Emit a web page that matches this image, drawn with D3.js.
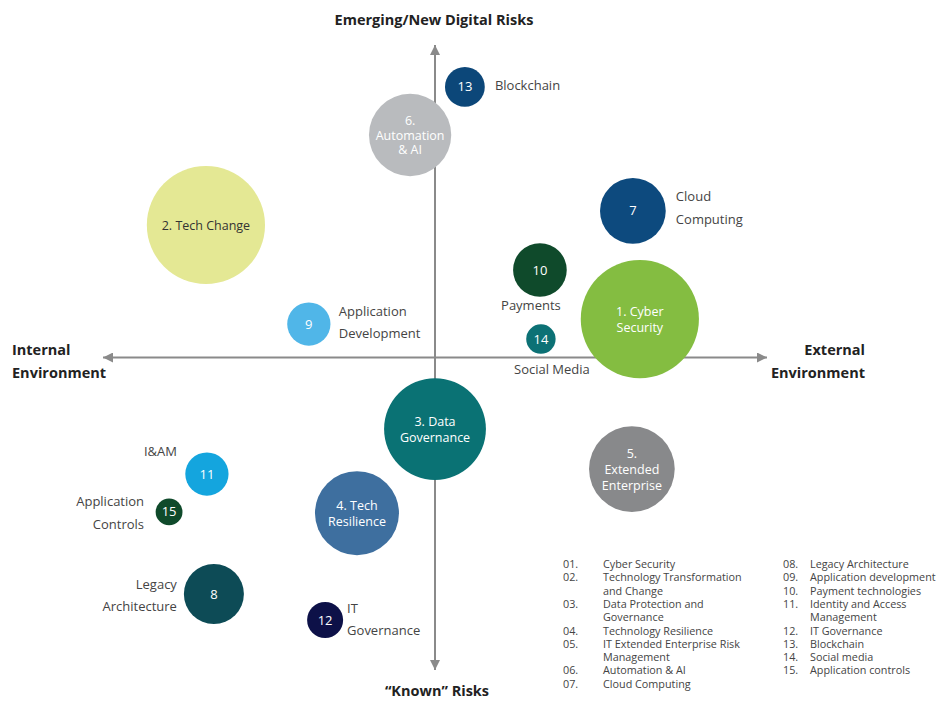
<!DOCTYPE html>
<html>
<head>
<meta charset="utf-8">
<script src="https://cdn.jsdelivr.net/npm/d3@7"></script>
<style>
  body { margin: 0; background: #fff; font-family: "Open Sans", sans-serif; }
</style>
</head>
<body>
<div id="chart"></div>
<script>
/* Data. */
const ids = [1, 2, 3, 4, 5, 6, 7, 8, 9, 10, 11, 12, 13, 14, 15]
const xValues = [6.17, -6.90, 0.00, -2.35, 5.93, -0.75, 5.96, -6.66, -3.80, 3.16, -6.87, -3.31, 0.90, 3.19, -8.01]
const yValues = [1.23, 4.24, -2.29, -4.98, -3.57, 7.12, 4.69, -7.57, 1.07, 2.80, -3.73, -8.40, 8.66, 0.59, -4.94]
const weights = [97, 97, 72, 49, 51, 47, 30, 25, 13, 20, 13, 9, 11, 6, 5]
const innerLabels = [
  ["1. Cyber", "Security"], ["2. Tech Change"], ["3. Data", "Governance"], ["4. Tech", "Resilience"],
  ["5.", "Extended", "Enterprise"], ["6.", "Automation", "& AI"], ["7"], ["8"], ["9"], ["10"],
  ["11"], ["12"], ["13"], ["14"], ["15"]
]
const outerLabels = [
  [], [], [], [], [], [], ["Cloud", "Computing"], ["Legacy", "Architecture"], ["Application", "Development"],
  ["Payments"], ["I&AM"], ["IT", "Governance"], ["Blockchain"], ["Social Media"], ["Application", "Controls"]
]
const colors = ["#84bd41", "#e4e894", "#0a7274", "#3e6f9f", "#88898b", "#b9bbbe", "#0d4a7e", "#0d4b56",
  "#50b6e8", "#0f4a2b", "#14a5de", "#0d1148", "#0c4779", "#0c7175", "#0f4a2b"]
const legendNums1 = ["01.", "02.", "", "03.", "", "04.", "05.", "", "06.", "07."]
const legendText1 = ["Cyber Security", "Technology Transformation", "and Change", "Data Protection and", "Governance",
  "Technology Resilience", "IT Extended Enterprise Risk", "Management", "Automation & AI", "Cloud Computing"]
const legendNums2 = ["08.", "09.", "10.", "11.", "", "12.", "13.", "14.", "15."]
const legendText2 = ["Legacy Architecture", "Application development", "Payment technologies", "Identity and Access",
  "Management", "IT Governance", "Blockchain", "Social media", "Application controls"]

/* Layout of outside labels: side, dx, dy of first line. */
const outerPlace = {
  7: { anchor: "start", dx: 43, dy: -14 },
  8: { anchor: "end", dx: -37, dy: -10 },
  9: { anchor: "start", dx: 30, dy: -13 },
  10: { anchor: "middle", dx: -9, dy: 35 },
  11: { anchor: "end", dx: -30, dy: -23 },
  12: { anchor: "start", dx: 22, dy: -12 },
  13: { anchor: "start", dx: 30, dy: -1 },
  14: { anchor: "middle", dx: 11, dy: 30 },
  15: { anchor: "end", dx: -25, dy: -10 }
}
/* Line spacing of the labels inside bubbles. */
const innerSpacing = { 5: 16, 6: 14.5 }

const width = 944
const height = 705

const svg = d3.select("#chart")
  .append("svg")
  .attr("width", width)
  .attr("height", height)

/* Scales. */
const x = d3.scaleLinear().domain([-10, 10]).range([103, 767])
const y = d3.scaleLinear().domain([-10, 10]).range([670, 45])
const r = d3.scaleSqrt().domain([0, 100]).range([0, 60])

/* Axes with arrowheads. */
const axisColor = "#8a8a8a"
const defs = svg.append("defs")
defs.append("marker")
  .attr("id", "arrow")
  .attr("viewBox", "0 0 10 10")
  .attr("refX", 10).attr("refY", 5)
  .attr("markerWidth", 6).attr("markerHeight", 5)
  .attr("markerUnits", "strokeWidth")
  .attr("orient", "auto")
  .append("path")
  .attr("d", "M0,0 L10,5 L0,10 Z")
  .attr("fill", axisColor)

const axes = svg.append("g")
axes.append("line")
  .attr("x1", x(0)).attr("x2", x(0)).attr("y1", y(0)).attr("y2", y(10))
axes.append("line")
  .attr("x1", x(0)).attr("x2", x(0)).attr("y1", y(0)).attr("y2", y(-10))
axes.append("line")
  .attr("x1", x(0)).attr("x2", x(-10)).attr("y1", y(0)).attr("y2", y(0))
axes.append("line")
  .attr("x1", x(0)).attr("x2", x(10)).attr("y1", y(0)).attr("y2", y(0))
axes.selectAll("line")
  .attr("stroke", axisColor)
  .attr("stroke-width", 2)
  .attr("marker-end", "url(#arrow)")

/* Axis titles. */
const titles = svg.append("g")
  .attr("font-weight", "bold")
  .attr("font-size", 14.5)
  .attr("fill", "#222")
titles.append("text").attr("x", 434).attr("y", 25).attr("text-anchor", "middle").text("Emerging/New Digital Risks")
titles.append("text").attr("x", 437).attr("y", 696).attr("text-anchor", "middle").text("\u201cKnown\u201d Risks")
titles.append("text").attr("x", 12).attr("y", 355).text("Internal")
titles.append("text").attr("x", 12).attr("y", 378).text("Environment")
titles.append("text").attr("x", 865).attr("y", 355).attr("text-anchor", "end").text("External")
titles.append("text").attr("x", 865).attr("y", 378).attr("text-anchor", "end").text("Environment")

/* Bubbles. */
const bubbles = ids.map((id, i) => ({
  id, x: xValues[i], y: yValues[i], w: weights[i],
  inner: innerLabels[i], outer: outerLabels[i], color: colors[i]
}))

const g = svg.append("g")
const node = g.selectAll("g.bubble")
  .data(bubbles)
  .enter()
  .append("g")
  .attr("class", "bubble")
  .attr("transform", d => `translate(${x(d.x)},${y(d.y)})`)

node.append("circle")
  .attr("r", d => r(d.w))
  .attr("fill", d => d.color)

node.each(function (d) {
  const sel = d3.select(this)
  const n = d.inner.length
  const lh = innerSpacing[d.id] || 16
  const big = d.id <= 6
  sel.selectAll("text.inner")
    .data(d.inner)
    .enter()
    .append("text")
    .attr("class", "inner")
    .attr("text-anchor", "middle")
    .attr("font-size", big ? 12.5 : 13)
    .attr("fill", d.id === 2 ? "#333" : "#fff")
    .attr("y", (t, j) => (j - (n - 1) / 2) * lh + 4.5)
    .text(t => t)

  const p = outerPlace[d.id]
  if (p) {
    sel.selectAll("text.outer")
      .data(d.outer)
      .enter()
      .append("text")
      .attr("class", "outer")
      .attr("text-anchor", p.anchor)
      .attr("font-size", 13)
      .attr("fill", "#444")
      .attr("x", p.dx)
      .attr("y", (t, j) => p.dy + 4.5 + j * 22.5)
      .text(t => t)
  }
})

/* Legend. */
const legend = svg.append("g")
  .attr("font-size", 10.8)
  .attr("fill", "#444")
const rowY = d3.scaleLinear().domain([0, 1]).range([568, 581.3])

legend.selectAll("text.n1").data(legendNums1).enter().append("text")
  .attr("x", 563).attr("y", (d, i) => rowY(i)).text(d => d)
legend.selectAll("text.t1").data(legendText1).enter().append("text")
  .attr("x", 603).attr("y", (d, i) => rowY(i)).text(d => d)
legend.selectAll("text.n2").data(legendNums2).enter().append("text")
  .attr("x", 783).attr("y", (d, i) => rowY(i)).text(d => d)
legend.selectAll("text.t2").data(legendText2).enter().append("text")
  .attr("x", 810).attr("y", (d, i) => rowY(i)).text(d => d)
</script>
</body>
</html>
